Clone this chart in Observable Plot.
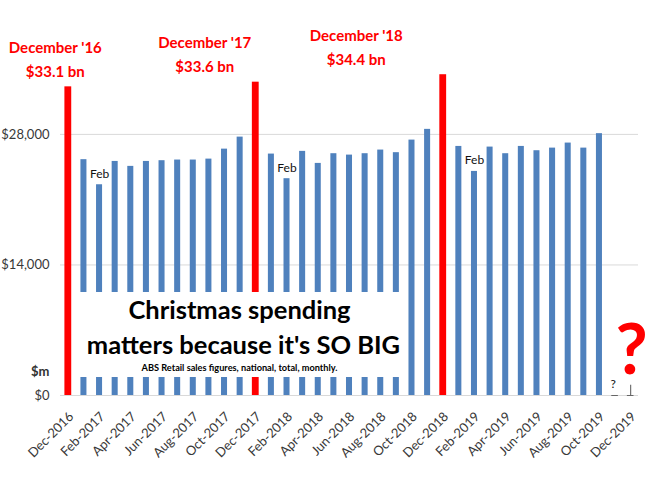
<!DOCTYPE html>
<html>
<head>
<meta charset="utf-8">
<script src="https://cdn.jsdelivr.net/npm/d3@7"></script>
<script src="https://cdn.jsdelivr.net/npm/@observablehq/plot@0.6"></script>
<style>
  html, body { margin: 0; padding: 0; background: #fff; }
  #wrap { position: relative; width: 650px; height: 487px; font-family: Lato, "Open Sans", sans-serif; }
  #box { position: absolute; left: 75px; top: 292px; width: 329px; height: 85px; background: #fff;
         text-align: center; font-weight: bold; color: #000; }
  #box .t { font-size: 25.5px; line-height: 35px; white-space: nowrap; }
  #box .t2 { position: relative; left: 4px; }
  #box .s { font-size: 9.2px; line-height: 12px; white-space: nowrap; }
</style>
</head>
<body>
<div id="wrap">
  <div id="chart"></div>
  <div id="box">
    <div class="t">Christmas spending</div>
    <div class="t t2">matters because it's SO BIG</div>
    <div class="s">ABS Retail sales figures, national, total, monthly.</div>
  </div>
</div>
<script>
// ---- data ----
const months = [
  "Dec-2016",
  "Jan-2017","Feb-2017","Mar-2017","Apr-2017","May-2017","Jun-2017","Jul-2017","Aug-2017","Sep-2017","Oct-2017","Nov-2017","Dec-2017",
  "Jan-2018","Feb-2018","Mar-2018","Apr-2018","May-2018","Jun-2018","Jul-2018","Aug-2018","Sep-2018","Oct-2018","Nov-2018","Dec-2018",
  "Jan-2019","Feb-2019","Mar-2019","Apr-2019","May-2019","Jun-2019","Jul-2019","Aug-2019","Sep-2019","Oct-2019","Nov-2019","Dec-2019"
];
// retail sales, $m (Nov/Dec 2019 not yet known)
const sales = [
  33100,
  25290, 22600, 25100, 24570, 25100, 25180, 25250, 25250, 25350, 26420, 27710, 33600,
  25890, 23250, 26180, 24890, 25930, 25780, 25930, 26320, 26040, 27390, 28540, 34400,
  26710, 24030, 26640, 25930, 26710, 26250, 26530, 27070, 26530, 28080, null, null
];
const yTicks = [0, 14000, 28000];
const pendingMonths = ["Nov-2019", "Dec-2019"];
const febMonths = ["Feb-2017", "Feb-2018", "Feb-2019"];

// ---- derived table ----
const data = months.map((month, i) => ({month, sales: sales[i], dec: month.startsWith("Dec")}));
const known = data.filter(d => d.sales != null);
const decs = known.filter(d => d.dec).map(d => ({
  ...d,
  label: `December '${d.month.slice(-2)}\n$${(d.sales / 1000).toFixed(1)} bn`
}));
const febs = known.filter(d => febMonths.includes(d.month));
const decLabelDx = [-13, -51, -87];

const fmt = d3.format(",");

const chart = Plot.plot({
  width: 650,
  height: 487,
  marginLeft: 60,
  marginRight: 12,
  marginTop: 22,
  marginBottom: 92,
  x: {type: "band", domain: months, padding: 0, round: false, axis: null},
  y: {domain: [0, 40000], axis: null},
  style: {fontFamily: "Lato, 'Open Sans', sans-serif", background: "white", color: "#383838"},
  marks: [
    Plot.ruleY(yTicks, {stroke: "#d9d9d9"}),
    Plot.barY(known.filter(d => !d.dec), {x: "month", y: "sales", fill: "#4f81bd", insetLeft: 4.8, insetRight: 4.8}),
    Plot.barY(known.filter(d => d.dec), {x: "month", y: "sales", fill: "#ff0000", insetLeft: 4.4, insetRight: 4.4}),
    Plot.axisX({ticks: months.filter((d, i) => i % 2 === 0), tickRotate: -45, tickSize: 0, tickPadding: 19, dx: 3,
      fontSize: 13, label: null}),
    Plot.axisY({ticks: yTicks, tickFormat: d => "$" + fmt(d), tickSize: 0, tickPadding: 11,
      fontSize: 13, label: null}),
    Plot.text(["$m"], {frameAnchor: "bottom-left", dx: -11, dy: -20, textAnchor: "end", lineAnchor: "bottom",
      fontSize: 13, fontWeight: "bold", fill: "#333"}),
    Plot.text(febs, {x: "month", y: "sales", text: () => "Feb", dy: -7, lineAnchor: "bottom", fontSize: 12, fill: "#111"}),
    ...decs.map((d, i) => Plot.text([d], {x: "month", y: "sales", text: "label", dx: decLabelDx[i], dy: -10,
      lineAnchor: "bottom", lineHeight: 1.6, fontSize: 15, fontWeight: "bold", fill: "#ff0000"})),
    // pending months: small placeholders
    Plot.tickY(pendingMonths, {x: d => d, y: () => 0, stroke: "#666", insetLeft: 4.5, insetRight: 4.5}),
    Plot.ruleX(pendingMonths.slice(1), {x: d => d, y1: 0, y2: 1100, stroke: "#555"}),
    Plot.text(pendingMonths.slice(0, 1), {x: d => d, y: () => 0, text: () => "?", dy: -8, dx: -2, lineAnchor: "bottom",
      fontSize: 12, fill: "#111"}),
    Plot.text(pendingMonths.slice(1), {x: d => d, y: () => 0, text: () => "?", dy: -22, dx: 1, lineAnchor: "bottom",
      fontSize: 70, fontWeight: "bold", fill: "#ff0000"})
  ]
});
document.getElementById("chart").appendChild(chart);
</script>
</body>
</html>
